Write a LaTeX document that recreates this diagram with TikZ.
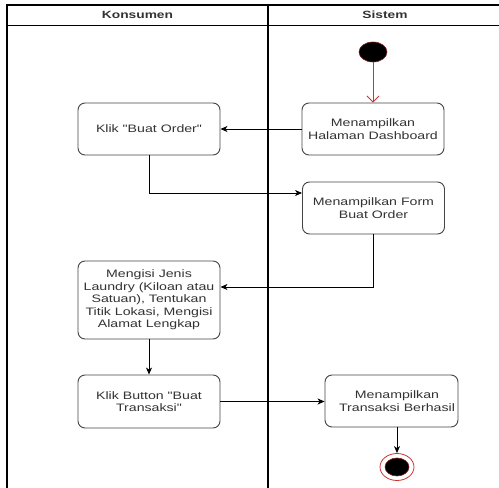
\documentclass[tikz,border=0pt]{standalone}
\usepackage{fontspec}
\setmainfont{Liberation Sans}
\newfontfamily\dfont[FakeStretch=1.31]{Liberation Sans}
\usetikzlibrary{arrows.meta,shapes.geometric}
\definecolor{txtgray}{HTML}{333333}
\definecolor{edgegray}{HTML}{444444}
\definecolor{startred}{HTML}{CC3333}
\begin{document}
\begin{tikzpicture}[x=1pt,y=-1pt,
  lane/.style={line width=1.3pt, black},
  actbox/.style={draw=edgegray, line width=0.9pt, rounded corners=7pt, minimum width=142pt, minimum height=52pt, inner sep=2pt, align=center, text=txtgray, font=\dfont\fontsize{10.8}{12.5}\selectfont},
  txt/.style={align=center, text=txtgray, inner sep=0pt, font=\dfont\fontsize{10.8}{12.5}\selectfont},
  hdr/.style={font=\dfont\bfseries\fontsize{10.5}{12}\selectfont, text=txtgray},
  flow/.style={draw=black, line width=0.9pt, -{Stealth[length=7pt,width=6pt,inset=2pt]}},
  startflow/.style={draw=startred, line width=0.9pt, -{Straight Barb[length=6pt,width=12pt]}},
  startdot/.style={ellipse, fill=black, draw=startred!60!black, line width=0.6pt, inner sep=0pt},
]
\fill[white] (0,0) rectangle (499,488);
\useasboundingbox (0,0) rectangle (499,488);

% swimlanes
\draw[lane] (7,488) -- (7,5) -- (499,5);
\draw[lane, line width=1pt] (7,25) -- (499,25);
\draw[lane] (268,5) -- (268,488);
\node[hdr] (h1) at (137.5,15) {Konsumen};
\node[hdr] (h2) at (385,15) {Sistem};

% start
\node[startdot, minimum width=28pt, minimum height=20pt] (start) at (373,52) {};

% activities
\node[actbox] (k1) at (149,129) {Klik "Buat Order"};
\node[actbox] (dash) at (373,129) {Menampilkan\\Halaman Dashboard};
\node[actbox] (form) at (373.5,208) {Menampilkan Form\\Buat Order};
\node[actbox, minimum height=78pt] (isi) at (149,300) {Mengisi Jenis\\Laundry (Kiloan atau\\Satuan), Tentukan\\Titik Lokasi, Mengisi\\Alamat Lengkap};
\node[actbox, minimum height=53pt] (kb) at (149,401.5) {Klik Button "Buat\\Transaksi"};
\node[actbox, minimum width=133pt] (tr) at (391.5,401) {};
\node[txt] (trt) at (397,401) {Menampilkan\\Transaksi Berhasil};

% end
\node[ellipse, draw=startred, line width=0.8pt, fill=white, minimum width=34pt, minimum height=27pt, inner sep=0pt] (end) at (397,467) {};
\node[startdot, minimum width=24pt, minimum height=18pt] (endin) at (397,467) {};

% flows
\draw[startflow] (start) -- (dash);
\draw[flow] (dash.west) -- (dash.west -| k1.east);
\draw[flow] (k1.south) |- ([yshift=15pt]form.west);
\draw[flow] (form.south) |- ([yshift=13pt]isi.east);
\draw[flow] (isi) -- (kb);
\draw[flow] (kb.east) -- (kb.east -| tr.west);
\draw[flow] (end.north |- tr.south) -- (end.north);
\end{tikzpicture}
\end{document}
